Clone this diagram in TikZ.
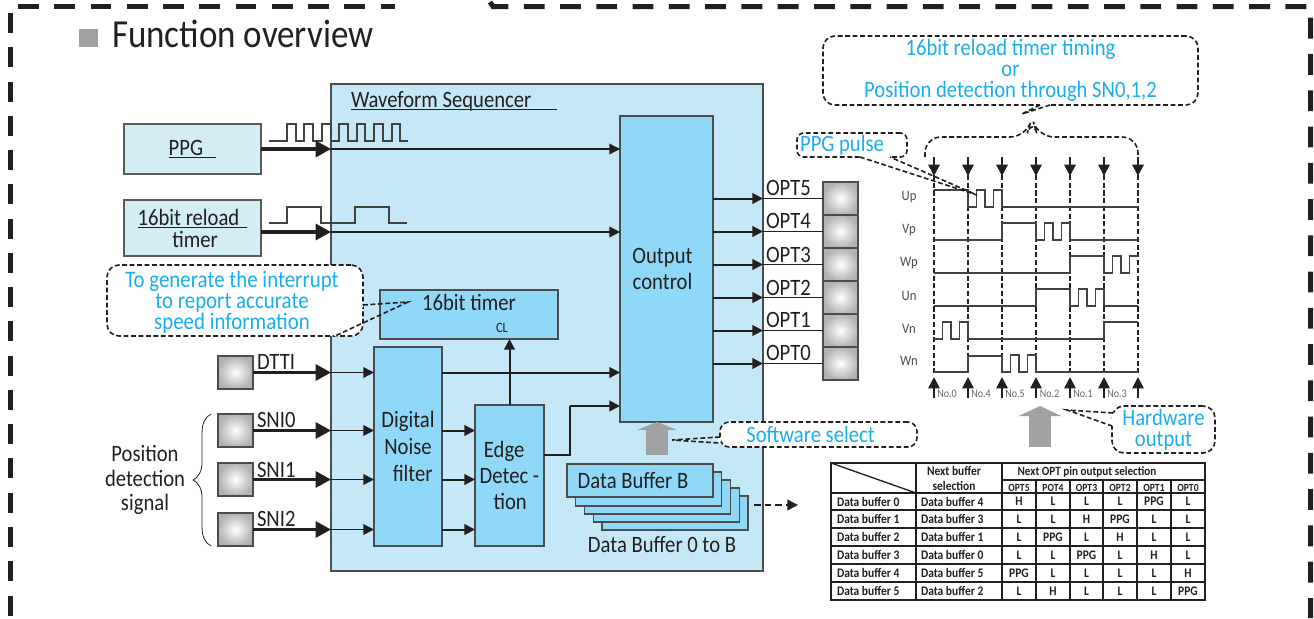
\documentclass[tikz,border=0pt]{standalone}
\usepackage{fontspec}
\setmainfont{Carlito}[FakeStretch=0.88]
\usetikzlibrary{arrows.meta,decorations.pathreplacing}
\definecolor{inkc}{HTML}{231F20}
\definecolor{seqblue}{HTML}{C5E8F9}
\definecolor{boxblue}{HTML}{8FD8F8}
\definecolor{srcblue}{HTML}{D2EDF4}
\definecolor{notecyan}{HTML}{1AAEEC}
\definecolor{bigarrow}{HTML}{A0A1A3}
\newcommand{\fs}[2]{\fontsize{#1}{#2}\selectfont}
\newcommand{\undertext}[1]{\setbox0=\hbox{#1}\rlap{\rule[-2.3pt]{\wd0}{1.1pt}}\box0}
% one pwm burst, 34 wide, starts low and ends high
\newcommand{\pwm}{-- ++(8.5,0) -- ++(0,-17) -- ++(8.5,0) -- ++(0,17) -- ++(8.5,0) -- ++(0,-17) -- ++(8.5,0)}
\newcommand{\notetail}[3]{\draw[white, line width=2pt] (#1) -- (#3); \draw[note line] (#1) -- (#2) -- (#3);}

\begin{document}
\begin{tikzpicture}[
  x=0.75pt, y=-0.75pt,
  every node/.style={text=inkc, inner sep=0pt, outer sep=0pt},
  sized/.style 2 args={minimum width=#1*0.75pt, minimum height=#2*0.75pt, anchor=north west},
  lbl/.style={font=\fs{17.6}{18}, align=center},
  base lbl/.style={font=\fs{17.6}{18}, anchor=base west},
  seqbox/.style={draw=black!70, line width=0.8pt, fill=seqblue},
  srcbox/.style={draw=black!65, line width=0.8pt, fill=srcblue, font=\fs{17.6}{16.5}, align=center},
  bluebox/.style={draw=black!70, line width=0.8pt, fill=boxblue, font=\fs{17.6}{19.5}, align=center},
  pinbox/.style={draw=black!70, line width=0.9pt, inner color=white, outer color=black!30, sized={35}{33}},
  note/.style={draw=inkc, dash pattern=on 3.6pt off 2pt, line width=1.2pt, fill=white,
               rounded corners=9pt, text=notecyan, font=\fs{17.6}{16}, align=center},
  note line/.style={draw=inkc, dash pattern=on 3.6pt off 2pt, line width=1.2pt},
  border/.style={draw=inkc, line width=3.75pt, dash pattern=on 15.6pt off 11.6pt},
  busarr/.style={draw=inkc, line width=2.3pt, -{Triangle[length=11.5pt,width=12pt]}},
  sigarr/.style={draw=inkc, line width=1pt, -{Triangle[length=8pt,width=8pt]}},
  thinline/.style={draw=inkc, line width=1pt},
  wave/.style={draw=inkc!85, line width=0.9pt},
  slotline/.style={draw=inkc, line width=1.3pt, dash pattern=on 3.8pt off 2pt},
  tick/.style={draw=inkc, line width=1.4pt, -{Triangle[length=8.5pt,width=8.5pt]}},
  cell/.style={font=\bfseries\fs{9.8}{10}},
  sig/.style={font=\fs{10.8}{11}, text=black!70},
  slot/.style={font=\fs{8.6}{9}, text=black!60}
]
\useasboundingbox (0,0) rectangle (1314,618);

% page frame
\draw[border] (18,6.5) -- (395,6.5);
\draw[border] (490,2) -- (493,6.5) -- (1310.5,6.5) -- (1310.5,618);
\draw[border, dash pattern=on 15pt off 10.7pt] (10.5,13) -- (10.5,618);

% title
\node[fill=bigarrow, sized={19}{18}] (mark) at (79,29) {};
\node[font=\fs{29.8}{30}, anchor=base west] (title) at (112,47) {Function overview};

% sequencer block
\node[seqbox, sized={432}{487}] (seq) at (331,84) {};
\node[base lbl] (seqname) at (351,107) {\undertext{Waveform Sequencer\hspace{19.5pt}}};
\node[srcbox, sized={137}{50}] (ppg) at (124,124) {\undertext{PPG\hspace{10pt}}};
\node[srcbox, sized={137}{56}] (reload) at (124,200) {\undertext{16bit reload\hspace{6pt}}\\\hspace*{4pt}timer};
\node[bluebox, sized={93}{306}] (outctl) at (620,116) {Output\hspace*{6pt}\\control\hspace*{6pt}};
\node[bluebox, sized={178}{49}] (timer) at (380,290) {};
\node[lbl, anchor=base] (timertxt) at (469,310) {16bit timer};
\node[font=\fs{10.7}{11}, anchor=base] (timercl) at (502,332) {CL};
\node[bluebox, sized={68}{199}, font=\fs{17.6}{20.5}] (filter) at (374,347) {Digital\\Noise\\\hspace*{7pt}filter};
\node[bluebox, sized={69}{141}] (edge) at (475,405) {Edge\hspace*{8pt}\\Detec -\\\hspace*{1pt}tion};

% pulse trains above the two sources
\draw[wave] (269,141) -- (287,141) -- (287,124) -- (296,124) -- (296,141) -- (304,141) -- (304,124) -- (313,124) -- (313,141)
  -- (322,141) -- (322,124) -- (331,124) -- (331,141) -- (339,141) -- (339,124) -- (348,124) -- (348,141) -- (357,141)
  -- (357,124) -- (365,124) -- (365,141) -- (374,141) -- (374,124) -- (383,124) -- (383,141) -- (392,141) -- (392,124)
  -- (400,124) -- (400,141) -- (408,141);
\draw[wave] (269,223) -- (287,223) -- (287,207) -- (321,207) -- (321,223) -- (355,223) -- (355,207) -- (389,207) -- (389,223) -- (407,223);

\coordinate (reloadout) at (261,232);
\draw[sigarr] (ppg.east -| seq.west) -- (ppg.east -| outctl.west);
\draw[sigarr] (reloadout -| seq.west) -- (reloadout -| outctl.west);
\draw[busarr] (ppg.east) -- (ppg.east -| seq.west);
\draw[busarr] (reloadout) -- (reloadout -| seq.west);

% input pins
\foreach \pinname/\pinlabel/\ypos/\ybase in {dtti/DTTI/356/369, sni0/SNI0/414/427, sni1/SNI1/463/477, sni2/SNI2/513/526} {
  \node[pinbox] (\pinname) at (218,\ypos) {};
  \node[base lbl] at (257,\ybase) {\pinlabel};
  \draw[sigarr] (\pinname -| seq.west) -- (\pinname -| filter.west);
  \draw[busarr] (\pinname.east) -- (\pinname -| seq.west);
}
\foreach \pinname in {sni0,sni1,sni2} {
  \draw[sigarr, line width=1.5pt] (\pinname -| filter.east) -- (\pinname -| edge.west);
}
\draw[sigarr, line width=1.5pt] (dtti -| filter.east) -- (dtti -| outctl.west);
\draw[sigarr, line width=1.5pt] (edge.north) -- (edge.north |- timer.south);
\coordinate (edgeout) at (544,455);
\coordinate (edgejog) at (570,406);
\draw[thinline] (edgeout) -| (edgejog);
\draw[sigarr, line width=1.5pt] (edgejog) -- (edgejog -| outctl.west);

\draw[line width=0.6pt, draw=inkc, decorate, decoration={brace, amplitude=13.5pt}]
  ([xshift=-5.2pt]sni2.south west) -- ([xshift=-5.2pt]sni0.north west);
\node[lbl, font=\fs{17.6}{18.4}] (possig) at (145,480) {Position\\detection\\signal};

% output pins
\foreach \n/\ypos/\ybase in {5/182/195, 4/215/228, 3/248/262, 2/281/295, 1/314/327, 0/347/360} {
  \node[pinbox] (opt\n) at (823,\ypos) {};
  \draw[thinline] (opt\n -| seq.east) -- (opt\n.west);
  \draw[sigarr, line width=1.5pt] (opt\n -| outctl.east) -- (opt\n -| seq.east);
  \node[base lbl] at (766,\ybase) {OPT\n};
}

% data buffers
\foreach \i in {4,3,2,1} {
  \node[bluebox, sized={146}{34}] (buf\i) at ({567+\i*8.75},{464+\i*8}) {};
}
\node[bluebox, sized={146}{33}] (bufB) at (567,464) {Data Buffer B\hspace{10.5pt}};
\node[lbl, anchor=base] (buflbl) at (662,552) {Data Buffer 0 to B};
\coordinate (bufout) at (754,505);
\coordinate (bufto) at (798,505);
\draw[draw=inkc, line width=1.2pt, dash pattern=on 5pt off 3pt, -{Triangle[length=8pt,width=8pt]}] (bufout) -- (bufto);

% grey arrows
\coordinate (swfoot) at (657,455);
\draw[draw=bigarrow, line width=16.5pt, -{Triangle[length=6pt,width=30pt]}] (swfoot) -- (swfoot |- outctl.south);
\coordinate (hwfoot) at (1040,447);
\coordinate (hwhead) at (1040,406);
\draw[draw=bigarrow, line width=16.5pt, -{Triangle[length=7.5pt,width=31.5pt]}] (hwfoot) -- (hwhead);

% timing chart
\foreach \x [count=\i] in {934,968,1002,1036,1070,1104,1138} {
  \coordinate (top\i) at (\x,157);
  \coordinate (bot\i) at (\x,398);
  \draw[slotline] (\x,175) -- (\x,373);
  \draw[tick] (top\i) -- (\x,176);
  \draw[tick] (bot\i) -- (\x,377);
}
\draw[wave] (934,190) -- (968,190) -- (968,207) \pwm -- (1002,207) -- (1138,207);
\draw[wave] (934,240) -- (1002,240) -- (1002,223) -- (1036,223) -- (1036,240) \pwm -- (1070,240) -- (1138,240);
\draw[wave] (934,273) -- (1070,273) -- (1070,256) -- (1104,256) -- (1104,273) \pwm;
\draw[wave] (934,306) -- (1036,306) -- (1036,289) -- (1070,289) -- (1070,306) \pwm -- (1104,306) -- (1138,306);
\draw[wave] (934,339) \pwm -- (968,339) -- (1104,339) -- (1104,322) -- (1138,322);
\draw[wave] (934,372) -- (968,372) -- (968,356) -- (1002,356) -- (1002,372) \pwm -- (1036,372) -- (1138,372);
\foreach \name/\ypos in {Up/197, Vp/230, Wp/263, Un/296, Vn/329, Wn/361} {
  \node[sig] at (909,\ypos) {\name};
}
\foreach \name/\xpos in {0/947, 4/981, 5/1015, 2/1049.5, 1/1083, 3/1117} {
  \node[slot] at (\xpos,394) {No.\name};
}
\draw[note line, rounded corners=12pt] (925,157) -- (925,137) -- (1026,137) -- (1032,118) -- (1038,137) -- (1138,137) -- (top7);

% callouts
\node[note, sized={375}{69}] (timingnote) at (823,36) {16bit reload timer timing\\or\\Position detection through SN0,1,2};
\coordinate (timingtip) at (1022,114);
\notetail{1040,105}{timingtip}{1050,105}
\node[note, sized={110}{24}, rounded corners=5pt] (ppgnote) at (797,133) {PPG pulse\hspace{15pt}};
\coordinate (ppgtip) at (977,195);
\notetail{860,157}{ppgtip}{890,157}
\node[note, sized={256}{71}] (intnote) at (107,265) {};
\node[font=\fs{17.8}{16}, text=notecyan, align=center] (inttext) at (232,302) {To generate the interrupt\\to report accurate\\speed information};
\coordinate (inttip) at (408,302);
\notetail{363,305}{inttip}{335,336}
\node[note, sized={197}{25}, rounded corners=7pt] (swnote) at (720,422) {Software select\hspace{12pt}};
\coordinate (swtip) at (672,440);
\notetail{720,437}{swtip}{719,443}
\node[note, sized={103}{47}] (hwnote) at (1112,406) {Hardware\\output};
\coordinate (hwtip) at (1067,410);
\notetail{1113,413}{hwtip}{1112,426}

% buffer table
\node[draw=inkc, line width=1.4pt, sized={374}{137}] (tbl) at (831,463) {};
\foreach \y in {493,510,528,546,564,582} {
  \draw[thinline] (tbl.west |- 0,\y) -- (tbl.east |- 0,\y);
}
\draw[thinline] (1002,480) -- (1205,480);
\foreach \x in {916,1002} {
  \draw[thinline] (\x,463) -- (\x,600);
}
\foreach \x in {1036,1070,1103,1137,1171} {
  \draw[thinline] (\x,480) -- (\x,600);
}
\draw[thinline] (tbl.north west) -- (916,493);
\node[cell, align=center, font=\bfseries\fs{9.8}{10.6}] at (954,478.5) {Next buffer\\selection};
\node[cell, font=\bfseries\fs{9.5}{10}] at (1087,472) {Next OPT pin output selection};
\foreach \name/\xpos in {OPT5/1019, POT4/1053, OPT3/1086.5, OPT2/1120, OPT1/1154, OPT0/1188} {
  \node[cell, font=\bfseries\fs{8.2}{9}] at (\xpos,487.5) {\name};
}
\foreach \ypos/\buf/\nxt/\a/\b/\c/\d/\e/\f in {
  501.5/0/4/H/L/L/L/PPG/L,
  519/1/3/L/L/H/PPG/L/L,
  537/2/1/L/PPG/L/H/L/L,
  555/3/0/L/L/PPG/L/H/L,
  573/4/5/PPG/L/L/L/L/H,
  591/5/2/L/H/L/L/L/PPG} {
  \node[cell, anchor=west] at (837,\ypos) {Data buffer \buf};
  \node[cell, anchor=west] at (921,\ypos) {Data buffer \nxt};
  \node[cell] at (1019,\ypos) {\a};
  \node[cell] at (1053,\ypos) {\b};
  \node[cell] at (1086.5,\ypos) {\c};
  \node[cell] at (1120,\ypos) {\d};
  \node[cell] at (1154,\ypos) {\e};
  \node[cell] at (1188,\ypos) {\f};
}

\end{tikzpicture}
\end{document}
